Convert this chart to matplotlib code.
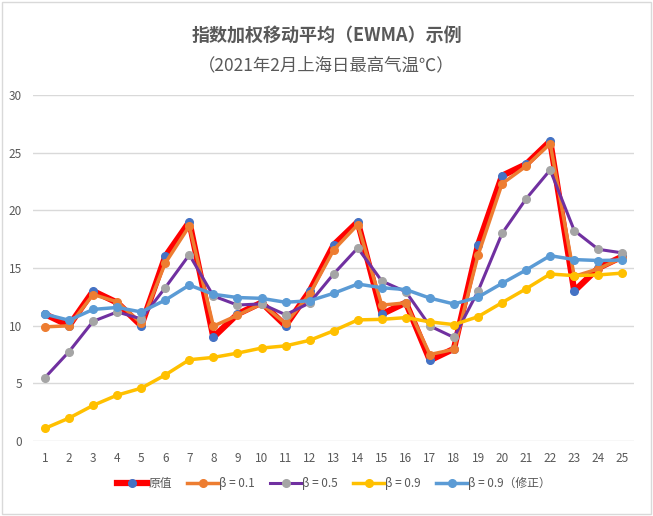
import matplotlib
matplotlib.use('Agg')
import matplotlib.pyplot as plt
from matplotlib.patches import Rectangle

plt.rcParams['font.family'] = ['Noto Sans CJK SC', 'DejaVu Sans']

days = list(range(1, 26))
raw = [11, 10, 13, 12, 10, 16, 19, 9, 11, 12, 10, 13, 17, 19, 11, 12, 7, 8, 17, 23, 24, 26, 13, 15, 16]
b01 = [9.9, 9.99, 12.7, 12.07, 10.21, 15.42, 18.64, 9.96, 10.9, 11.89, 10.19, 12.72, 16.57,
       18.76, 11.78, 11.98, 7.5, 7.95, 16.1, 22.31, 23.83, 25.78, 14.28, 14.93, 15.89]
b05 = [5.5, 7.75, 10.38, 11.19, 10.59, 13.3, 16.15, 12.57, 11.79, 11.89, 10.95, 11.97, 14.49,
       16.74, 13.87, 12.94, 9.97, 8.98, 12.99, 18.0, 21.0, 23.5, 18.25, 16.62, 16.31]
b09 = [1.1, 1.99, 3.09, 3.98, 4.58, 5.73, 7.05, 7.25, 7.62, 8.06, 8.25, 8.73, 9.56,
       10.5, 10.55, 10.7, 10.33, 10.09, 10.78, 12.0, 13.2, 14.48, 14.34, 14.4, 14.56]
b09c = [11.0, 10.47, 11.41, 11.58, 11.19, 12.22, 13.52, 12.72, 12.44, 12.37, 12.03, 12.16, 12.81,
        13.61, 13.29, 13.13, 12.39, 11.88, 12.47, 13.67, 14.83, 16.07, 15.73, 15.65, 15.69]
labels = ['原值', 'β = 0.1', 'β = 0.5', 'β = 0.9', 'β = 0.9（修正）']

fig = plt.figure(figsize=(6.53, 5.16), dpi=100)
fig.patches.append(Rectangle((0.003, 0.003), 0.994, 0.994, transform=fig.transFigure,
                             fill=False, edgecolor='#d9d9d9', linewidth=1))
ax = fig.add_axes([0.0505, 0.1453, 0.921, 0.6706])

ax.plot(days, raw, color='#ff0000', lw=4.5, marker='o', ms=5.5,
        mfc='#4472c4', mec='#4472c4', label=labels[0], zorder=2)
ax.plot(days, b01, color='#ed7d31', lw=2.5, marker='o', ms=5.5,
        mfc='#ed7d31', mec='#ed7d31', label=labels[1], zorder=3)
ax.plot(days, b05, color='#7030a0', lw=2.2, marker='o', ms=5.5,
        mfc='#a5a5a5', mec='#a5a5a5', label=labels[2], zorder=3)
ax.plot(days, b09, color='#ffc000', lw=2.5, marker='o', ms=5.5,
        mfc='#ffc000', mec='#ffc000', label=labels[3], zorder=3)
ax.plot(days, b09c, color='#5b9bd5', lw=2.5, marker='o', ms=5.5,
        mfc='#5b9bd5', mec='#5b9bd5', label=labels[4], zorder=3)

ax.set_xlim(0.5, 25.5)
ax.set_ylim(0, 30)
ax.set_xticks(days)
ax.set_yticks(range(0, 31, 5))
ax.tick_params(length=0, labelsize=8.5, colors='#595959', pad=8)
ax.grid(axis='y', color='#d9d9d9', lw=1)
ax.set_axisbelow(True)
for s in ax.spines.values():
    s.set_visible(False)

fig.text(0.5, 0.932, '指数加权移动平均（EWMA）示例', ha='center', va='center',
         fontsize=13, fontweight='bold', color='#595959')
fig.text(0.5, 0.874, '（2021年2月上海日最高气温℃）', ha='center', va='center',
         fontsize=12.5, color='#595959')

ax.legend(loc='center', bbox_to_anchor=(0.5, -0.122), ncol=5, frameon=False,
          fontsize=8.5, labelcolor='#595959', handlelength=2.6, handletextpad=0.1,
          columnspacing=1.3)

fig.savefig('out.png', dpi=100)
